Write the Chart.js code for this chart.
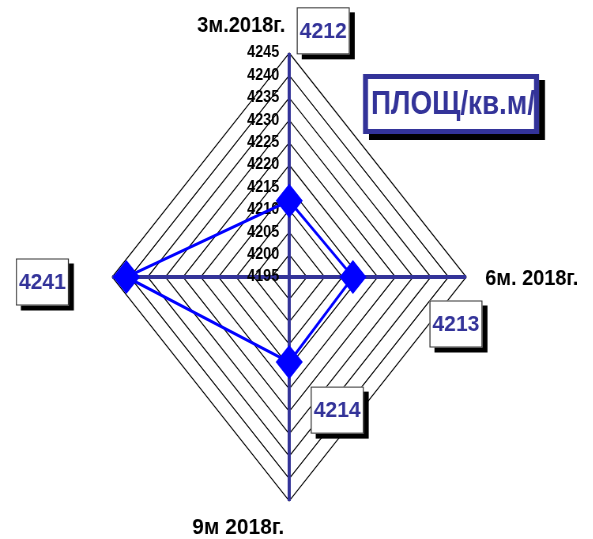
<!DOCTYPE html>
<html>
<head>
<meta charset="utf-8">
<script src="https://cdn.jsdelivr.net/npm/chart.js@4"></script>
<style>
  html, body { margin: 0; padding: 0; background: #fff; overflow: hidden; width: 593px; height: 539px; }
  #c { display: block; transform: scaleX(0.7902); transform-origin: 0 0; }
</style>
</head>
<body>
<canvas id="c" width="751" height="539"></canvas>
<script>
// data
const periods = ['3м.2018г.', '6м. 2018г.', '9м 2018г.', ''];
const area = [4212, 4213, 4214, 4241];
const tickMin = 4195;
const tickMax = 4245;
const tickStep = 5;
const title = 'ПЛОЩ/кв.м/';

// the original picture is squeezed sideways, canvas gets stretched back by css
const SX = 0.7902;
const NAVY = '#333399';

// where the boxed values sit, relative to their marker (screen px)
const boxOffsets = [[34, -170], [103, 47], [48, 48], [-84, 5]];
const labelPlace = [
  { dx: -4, dy: -27, align: 'right', w: 88 },
  { dx: 19, dy: 2, align: 'left', w: 93 },
  { dx: -5, dy: 27, align: 'right', w: 92 },
  { dx: 0, dy: 0, align: 'center', w: 0 },
];

function text(ctx, s, x, y, size, color, align, width) {
  if (!s) return;
  ctx.save();
  ctx.font = 'bold ' + size + 'px "Liberation Sans", Arial, sans-serif';
  const k = width ? width / ctx.measureText(s).width : 1;
  ctx.translate(x, y);
  ctx.scale(k, 1);
  ctx.fillStyle = color;
  ctx.textAlign = align;
  ctx.textBaseline = 'middle';
  ctx.fillText(s, 0, 0);
  ctx.restore();
}

function box(ctx, x, y, w, h, lw, stroke, shadow) {
  ctx.fillStyle = '#000';
  ctx.fillRect(x + shadow, y + shadow, w, h);
  ctx.fillStyle = '#fff';
  ctx.fillRect(x, y, w, h);
  ctx.lineWidth = lw;
  ctx.strokeStyle = stroke;
  ctx.strokeRect(x + lw / 2, y + lw / 2, w - lw, h - lw);
}

const overlay = {
  id: 'overlay',
  beforeDatasetsDraw(chart) {
    const ctx = chart.ctx;
    const r = chart.scales.r;
    ctx.save();
    ctx.scale(1 / SX, 1);
    r.ticks.forEach(t => {
      const y = r.yCenter - r.getDistanceFromCenterForValue(t.value);
      text(ctx, String(t.value), r.xCenter * SX - 10, y, 16, '#000', 'right', 32);
    });
    ctx.restore();
  },
  afterDatasetsDraw(chart) {
    const ctx = chart.ctx;
    const r = chart.scales.r;
    ctx.save();
    ctx.scale(1 / SX, 1);

    periods.forEach((p, i) => {
      const v = r.getPointPosition(i, r.drawingArea);
      const pl = labelPlace[i];
      text(ctx, p, v.x * SX + pl.dx, v.y + pl.dy, 22, '#000', pl.align, pl.w);
    });

    chart.getDatasetMeta(0).data.forEach((pt, i) => {
      const cx = pt.x * SX + boxOffsets[i][0];
      const cy = pt.y + boxOffsets[i][1];
      box(ctx, cx - 26.5, cy - 23.5, 53, 47, 1, '#333', 5);
      text(ctx, String(area[i]), cx, cy + 1, 22, NAVY, 'center', 47);
    });

    box(ctx, 363, 74, 176, 60, 5, NAVY, 6);
    text(ctx, title, 453, 105, 33, NAVY, 'center', 164);
    ctx.restore();
  }
};

new Chart(document.getElementById('c'), {
  type: 'radar',
  data: {
    labels: periods,
    datasets: [{
      data: area,
      borderColor: '#0000ff',
      borderWidth: 3,
      fill: false,
      pointStyle: 'rectRot',
      pointRadius: 15,
      pointBorderWidth: 3,
      pointBackgroundColor: '#0000ff',
      pointBorderColor: '#0000ff',
    }],
  },
  options: {
    responsive: false,
    animation: false,
    devicePixelRatio: 1,
    layout: { padding: { left: 142, right: 161, top: 53, bottom: 38 } },
    plugins: { legend: { display: false }, tooltip: { enabled: false } },
    scales: {
      r: {
        min: tickMin,
        max: tickMax,
        beginAtZero: false,
        ticks: { stepSize: tickStep, display: false },
        grid: { circular: false, color: '#000', lineWidth: 1.2 },
        angleLines: { color: NAVY, lineWidth: 4 },
        pointLabels: { display: false },
      },
    },
  },
  plugins: [overlay],
});
</script>
</body>
</html>
